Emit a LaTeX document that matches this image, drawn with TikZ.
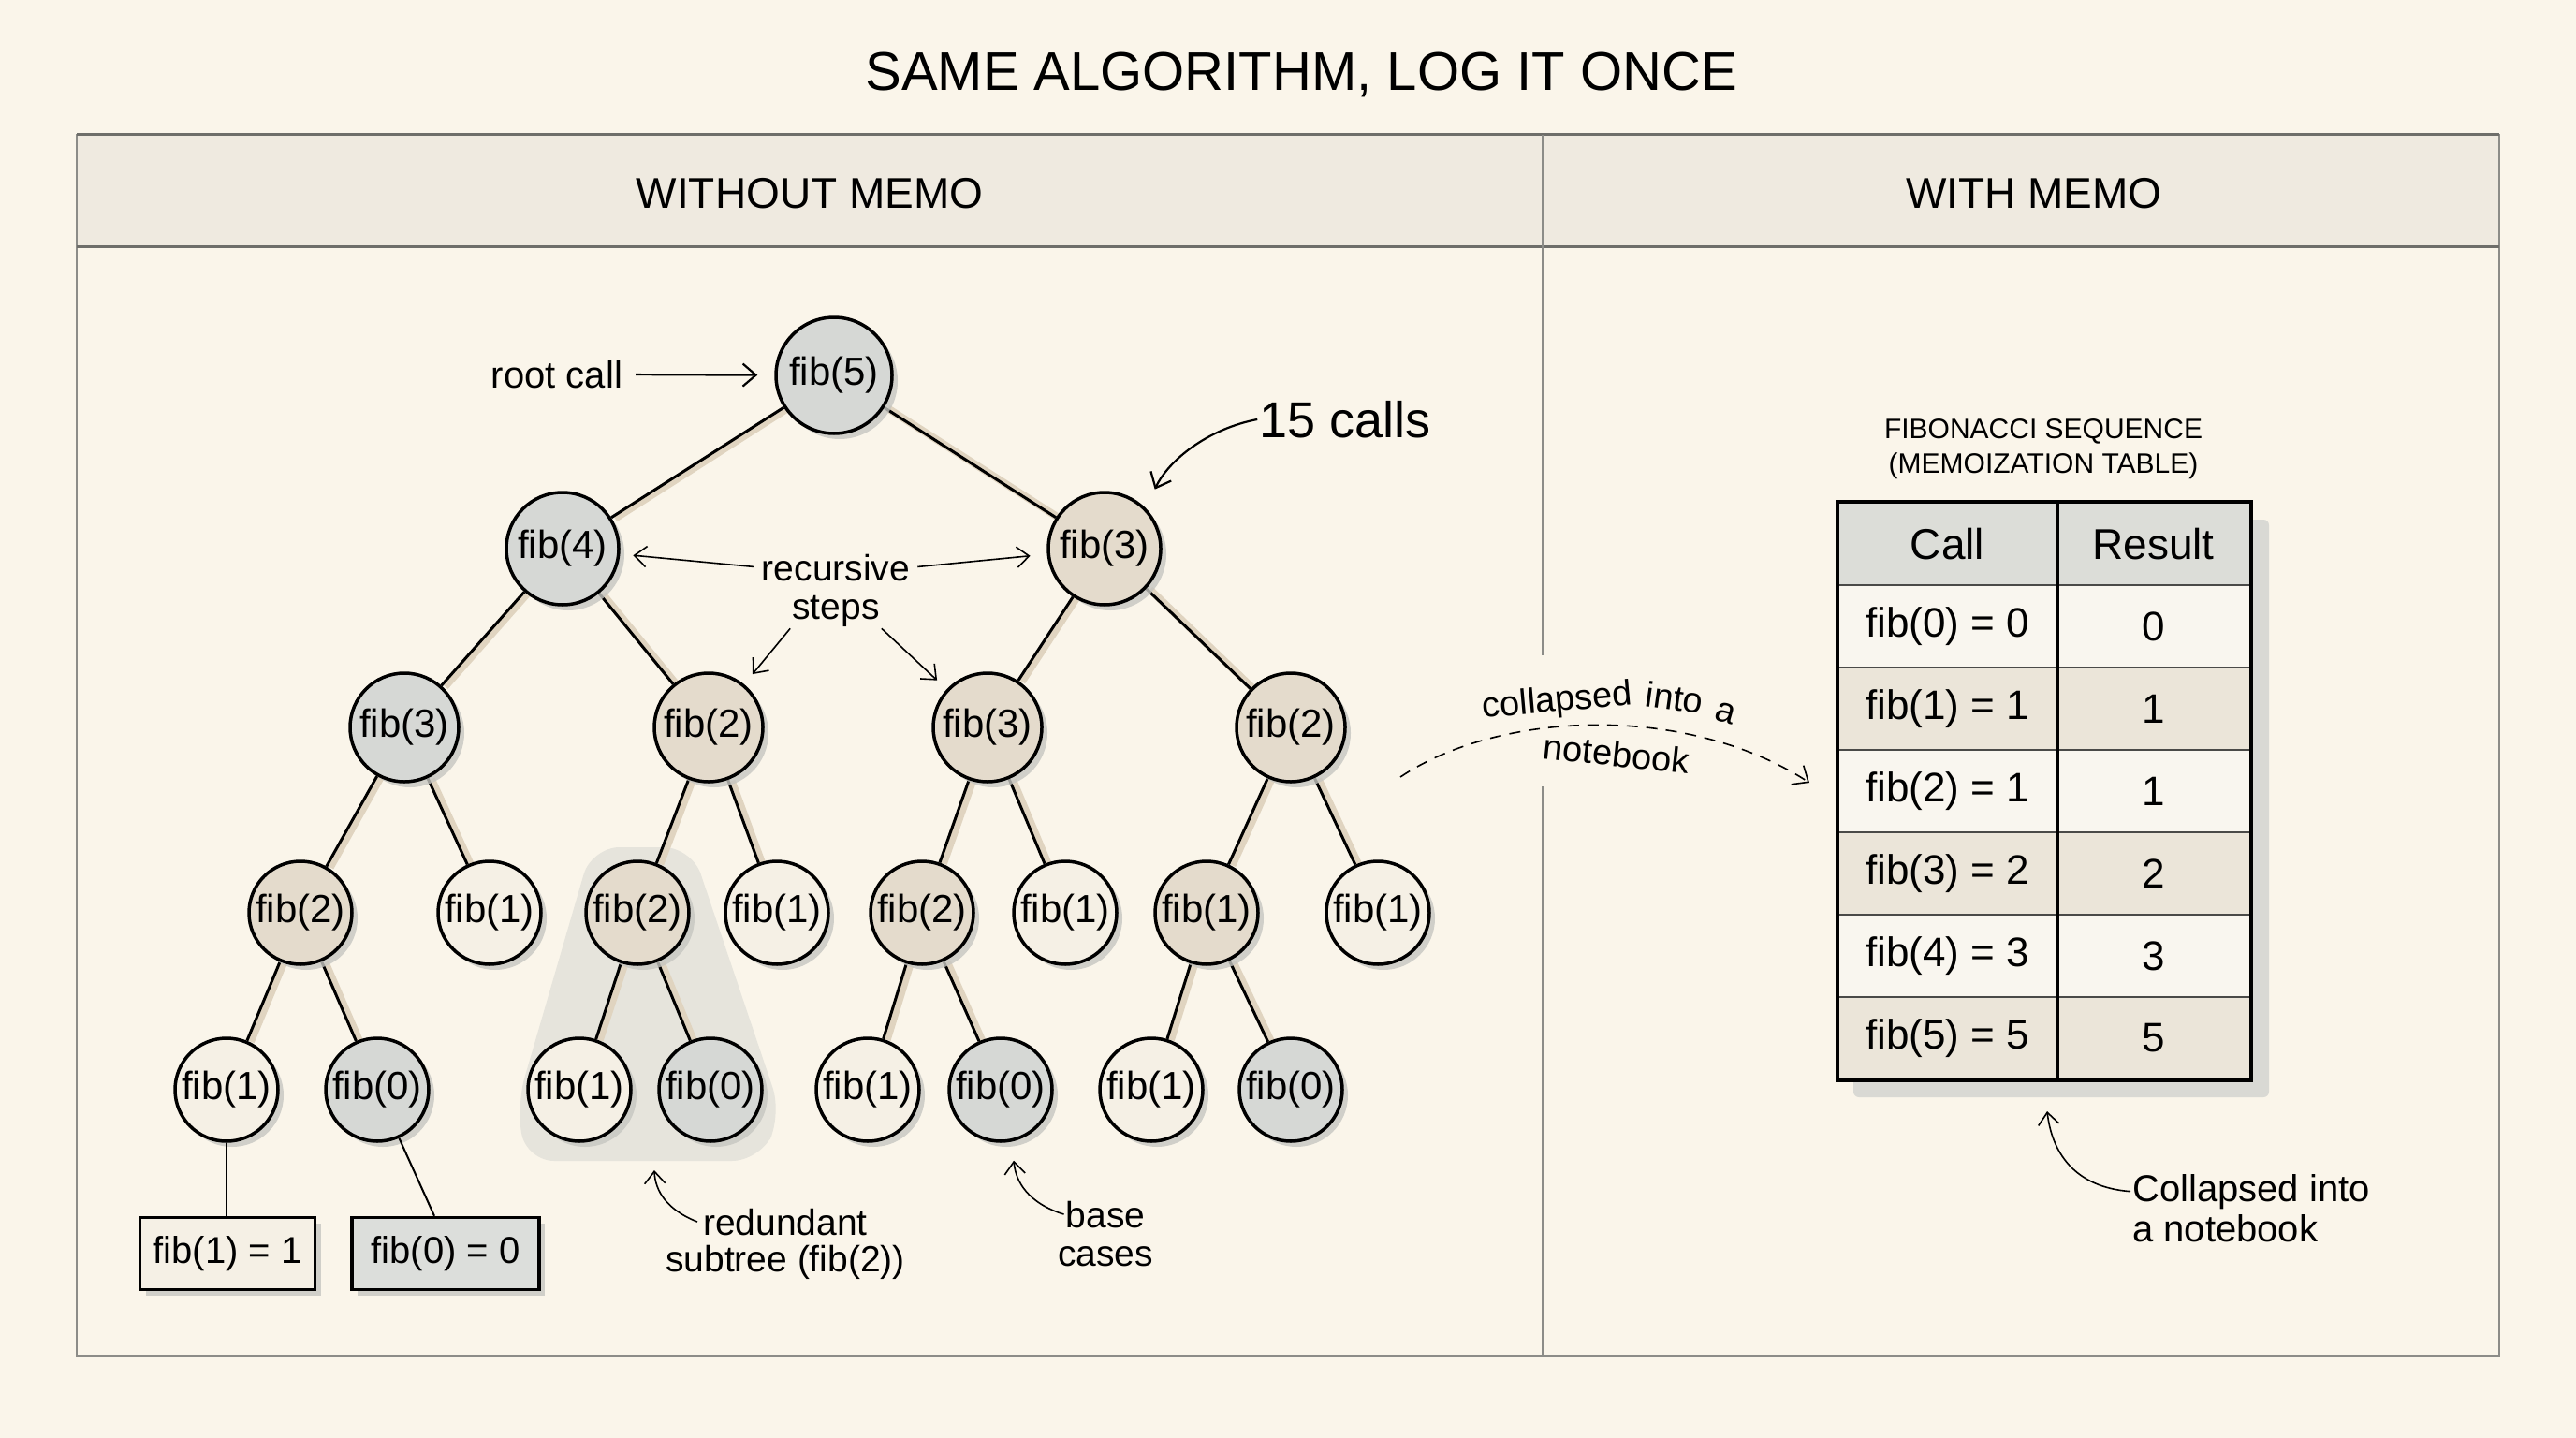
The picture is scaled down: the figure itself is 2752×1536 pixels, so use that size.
\documentclass[tikz,border=0pt]{standalone}
\usepackage{fontspec}
\setmainfont{Liberation Sans}
\usetikzlibrary{arrows.meta,shadows,backgrounds}
\definecolor{bg}{HTML}{FAF5EA}
\definecolor{band}{HTML}{EFEAE0}
\definecolor{ngray}{HTML}{D6D8D5}
\definecolor{ntan}{HTML}{E4DBCC}
\definecolor{ncream}{HTML}{F5F0E5}
\definecolor{edgebeige}{HTML}{E0D4C0}
\definecolor{shgray}{HTML}{C6C6C1}
\definecolor{framegray}{HTML}{8C8C88}
\definecolor{framedark}{HTML}{6E6E6A}
\definecolor{rowtan}{HTML}{EBE5D9}
\definecolor{rowlight}{HTML}{F9F6EF}
\definecolor{hdrgray}{HTML}{DCDDD8}
\definecolor{blobgray}{HTML}{E6E4DC}
\definecolor{tline}{HTML}{4A4A48}
\definecolor{tshadow}{HTML}{D9D9D4}
\newcommand\fsz[2]{\fontsize{#1}{#2}\selectfont}
\newcommand\tedge[2]{\draw[edgesh] (#1) -- (#2);\draw[edgeln] (#1) -- (#2);}

\begin{document}
\begin{tikzpicture}[x=1pt,y=-1pt,
  fibnode/.style={circle, draw=black, line width=3.5pt, minimum size=#1, inner sep=0pt,
     font=\fsz{42}{48}, drop shadow={shadow xshift=6pt, shadow yshift=-6pt, fill=shgray, opacity=0.8}},
  edgesh/.style={line width=8pt, draw=edgebeige, transform canvas={xshift=4pt,yshift=-1pt}},
  edgeln/.style={line width=3pt, draw=black},
  lbl/.style={inner sep=2pt, font=\fsz{40}{46}},
  arr/.style={line width=2.2pt, -{Straight Barb[length=14pt,width=24pt,line width=2.2pt]}},
  thinarr/.style={line width=1.6pt, -{Straight Barb[length=13pt,width=22pt,line width=1.6pt]}},
  leaf/.style={rectangle, draw=black, line width=3.5pt, inner sep=0pt, font=\fsz{40}{46},
     drop shadow={shadow xshift=6pt, shadow yshift=-6pt, fill=shgray, opacity=0.8}},
  cell/.style={rectangle, draw=tline, line width=2pt, inner sep=0pt, minimum height=88pt, font=\fsz{44}{50}},
  curvelbl/.style={inner sep=0pt, font=\fsz{38}{42}},
]
\useasboundingbox (0,0) rectangle (2752,1536);

\begin{scope}[on background layer]
  \fill[bg] (0,0) rectangle (2752,1536);
  \fill[band] (82,144) rectangle (2670,263);
  \draw[framegray, line width=1.5pt] (82,144) rectangle (2670,1448);
  \draw[framedark, line width=3pt] (82,144) -- (2670,144);
  \draw[framedark, line width=3pt] (82,263) -- (2670,263);
  \draw[framegray, line width=1.5pt] (1648,144) -- (1648,700);
  \draw[framegray, line width=1.5pt] (1648,840) -- (1648,1448);
  \fill[blobgray, rounded corners=30pt] (632,905) -- (739,905) -- (835,1190) -- (812,1240) -- (562,1240) -- (552,1180) -- cycle;
\end{scope}

% titles
\node[font=\fsz{58}{64}] (title) at (1390,80) {SAME ALGORITHM, LOG IT ONCE};
\node[font=\fsz{46}{52}] (hleft) at (865,207) {WITHOUT MEMO};
\node[font=\fsz{46}{52}] (hright) at (2173,207) {WITH MEMO};

% tree
\node[fibnode=124pt, fill=ngray] (n5) at (891,401) {fib(5)};
\node[fibnode=120pt, fill=ngray] (n4) at (601,586) {fib(4)};
\node[fibnode=120pt, fill=ntan] (n3r) at (1180,586) {fib(3)};
\node[fibnode=116pt, fill=ngray] (a3) at (432,777) {fib(3)};
\node[fibnode=116pt, fill=ntan] (a2) at (757,777) {fib(2)};
\node[fibnode=116pt, fill=ntan] (b3) at (1055,777) {fib(3)};
\node[fibnode=116pt, fill=ntan] (b2) at (1379,777) {fib(2)};
\node[fibnode=110pt, fill=ntan] (c1) at (321,975) {fib(2)};
\node[fibnode=110pt, fill=ncream] (c2) at (523,975) {fib(1)};
\node[fibnode=110pt, fill=ntan] (c3) at (681,975) {fib(2)};
\node[fibnode=110pt, fill=ncream] (c4) at (830,975) {fib(1)};
\node[fibnode=110pt, fill=ntan] (c5) at (985,975) {fib(2)};
\node[fibnode=110pt, fill=ncream] (c6) at (1138,975) {fib(1)};
\node[fibnode=110pt, fill=ntan] (c7) at (1289,975) {fib(1)};
\node[fibnode=110pt, fill=ncream] (c8) at (1472,975) {fib(1)};
\node[fibnode=110pt, fill=ncream] (d1) at (242,1164) {fib(1)};
\node[fibnode=110pt, fill=ngray] (d2) at (403,1164) {fib(0)};
\node[fibnode=110pt, fill=ncream] (d3) at (619,1164) {fib(1)};
\node[fibnode=110pt, fill=ngray] (d4) at (759,1164) {fib(0)};
\node[fibnode=110pt, fill=ncream] (d5) at (927,1164) {fib(1)};
\node[fibnode=110pt, fill=ngray] (d6) at (1069,1164) {fib(0)};
\node[fibnode=110pt, fill=ncream] (d7) at (1230,1164) {fib(1)};
\node[fibnode=110pt, fill=ngray] (d8) at (1379,1164) {fib(0)};

\begin{scope}[on background layer]
  \tedge{n5}{n4} \tedge{n5}{n3r}
  \tedge{n4}{a3} \tedge{n4}{a2} \tedge{n3r}{b3} \tedge{n3r}{b2}
  \tedge{a3}{c1} \tedge{a3}{c2} \tedge{a2}{c3} \tedge{a2}{c4}
  \tedge{b3}{c5} \tedge{b3}{c6} \tedge{b2}{c7} \tedge{b2}{c8}
  \tedge{c1}{d1} \tedge{c1}{d2} \tedge{c3}{d3} \tedge{c3}{d4}
  \tedge{c5}{d5} \tedge{c5}{d6} \tedge{c7}{d7} \tedge{c7}{d8}
\end{scope}

% base-case boxes
\node[leaf, fill=ncream, minimum width=187pt, minimum height=77pt] (box1) at (243,1339) {fib(1) = 1};
\node[leaf, fill=ngray!85!white, minimum width=200pt, minimum height=77pt] (box2) at (476,1339) {fib(0) = 0};
\draw[line width=2pt] (d1.south) -- (d1.south |- box1.north);
\draw[line width=2pt] (d2) -- ([xshift=-12pt]box2.north);

% annotations, left panel
\node[lbl, anchor=base] (rootlbl) at (595,414) {root call};
\draw[arr, shorten <=12pt, shorten >=18pt] (rootlbl) -- (n5);

\node[inner sep=2pt, font=\fsz{54}{60}] (calls) at (1437,448) {15 calls};
\draw[arr] (calls.west) .. controls (1290,458) and (1248,492) .. ([shift={(14,-16)}]n3r.50);

\node[lbl, font=\fsz{39}{44}, anchor=base] (recur1) at (893,620) {recursive};
\node[lbl, font=\fsz{39}{44}, anchor=base] (recur2) at (893,661) {steps};
\draw[thinarr, shorten <=6pt, shorten >=14pt] (recur1.west) -- (n4);
\draw[thinarr, shorten <=6pt, shorten >=18pt] (recur1.east) -- (n3r);
\draw[thinarr, shorten >=14pt] (recur2.south west) -- (a2);
\draw[thinarr, shorten >=14pt] (recur2.south east) -- (b3);

\node[lbl, font=\fsz{39}{44}, anchor=base] (red1) at (839,1319) {redundant};
\node[lbl, font=\fsz{39}{44}, anchor=base] (red2) at (839,1358) {subtree (fib(2))};
\coordinate (redtip) at (699,1250);
\draw[thinarr] ([xshift=-4pt]red1.west) .. controls (712,1292) and (700,1272) .. (redtip);

\node[lbl, font=\fsz{39}{44}, anchor=base] (base1) at (1181,1311) {base};
\node[lbl, font=\fsz{39}{44}, anchor=base] (base2) at (1181,1352) {cases};
\draw[thinarr] (base1.west) .. controls (1098,1285) and (1085,1262) .. ([shift={(14,19)}]d6.south);

% table
\node[font=\fsz{30}{37}, align=center] (ttitle) at (2183,480) {FIBONACCI SEQUENCE\\(MEMOIZATION TABLE)};
\fill[tshadow, rounded corners=6pt] (1980,555) rectangle (2424,1172);
\node[cell, fill=hdrgray, minimum width=233pt, font=\fsz{46}{52}] (hc) at (2080.5,581) {Call};
\node[cell, fill=hdrgray, minimum width=207pt, font=\fsz{46}{52}] (hr) at (2300.5,581) {Result};
\foreach \i/\t/\v/\c in {1/0/0/rowlight, 2/1/1/rowtan, 3/2/1/rowlight, 4/3/2/rowtan, 5/4/3/rowlight, 6/5/5/rowtan} {
  \node[cell, fill=\c, minimum width=233pt] (r\i c) at (2080.5,{581+88*\i}) {fib(\t) = \v};
  \node[cell, fill=\c, minimum width=207pt] (r\i r) at (2300.5,{581+88*\i}) {\v};
}
\draw[line width=4.5pt] (hc.north west) rectangle (r6r.south east);
\draw[line width=3pt] (hc.north east) -- (r6c.south east);

\node[lbl, anchor=base west] (coll1) at (2276,1283) {Collapsed into};
\node[lbl, anchor=base west] (coll2) at (2276,1326) {a notebook};
\draw[thinarr] (coll1.west) .. controls (2215,1268) and (2192,1230) .. ([shift={(-11,33)}]r6c.south east);

% dashed transfer arrow
\coordinate (dstart) at (1496,830);
\coordinate (dend) at (1933,836);
\draw[line width=1.6pt, dash pattern=on 12pt off 9pt, -{Straight Barb[length=14pt,width=24pt,line width=1.6pt]}] (dstart) .. controls (1600,760) and (1800,750) .. (dend);
\node[curvelbl, rotate=5] (cw1) at (1664,750) {collapsed};
\node[curvelbl, rotate=-8] (cw2) at (1789,745) {into};
\node[curvelbl, rotate=-16] (cw3) at (1843,762) {a};
\node[curvelbl, rotate=-6] (nb) at (1727,805) {notebook};
\end{tikzpicture}
\end{document}
